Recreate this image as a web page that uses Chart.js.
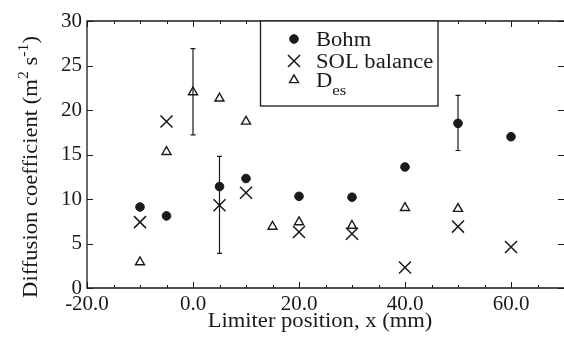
<!DOCTYPE html>
<html><head><meta charset="utf-8">
<script src="https://cdn.jsdelivr.net/npm/chart.js@4"></script>
<style>html,body{margin:0;padding:0;background:#fff;}</style>
</head><body>
<canvas id="c" width="564" height="344"></canvas>
<script>
// ---- data ----
const xBohm = [-10, -5, 5, 10, 20, 30, 40, 50, 60];
const bohm  = [9.1, 8.1, 11.4, 12.3, 10.3, 10.2, 13.6, 18.5, 17.0];
const xSol  = [-10, -5, 5, 10, 20, 30, 40, 50, 60];
const sol   = [7.4, 18.7, 9.3, 10.7, 6.3, 6.1, 2.3, 6.9, 4.6];
const xDes  = [-10, -5, 0, 5, 10, 15, 20, 30, 40, 50];
const des   = [2.9, 15.3, 22.0, 21.3, 18.7, 6.9, 7.4, 7.0, 9.0, 8.9];
// error bars: [x, low, high]
const errBohm = [[50, 15.45, 21.65]];
const errSol  = [[5, 3.9, 14.8]];
const errDes  = [[0, 17.2, 26.9]];
const xTicks = [-20, 0, 20, 40, 60];
const yTicks = [0, 5, 10, 15, 20, 25, 30];
const seriesNames = ['Bohm', 'SOL balance', 'D'];

const FONT = '"Liberation Serif", "Times New Roman", serif';
const INK = '#1a1a1a';
const SX = 1.13; // horizontal stretch of the reference lettering

function pts(xs, ys) { return xs.map((x, i) => ({x: x, y: ys[i]})); }

function stretchedText(ctx, segs, x, y, align) {
  ctx.save();
  ctx.translate(x, y);
  ctx.scale(SX, 1);
  let total = 0;
  segs.forEach(s => { ctx.font = s[1] + 'px ' + FONT; total += ctx.measureText(s[0]).width; });
  let cx = align === 'center' ? -total / 2 : 0;
  ctx.textAlign = 'left';
  segs.forEach(s => { ctx.font = s[1] + 'px ' + FONT; ctx.fillText(s[0], cx, s[2]); cx += ctx.measureText(s[0]).width; });
  ctx.restore();
}

const frame = {
  id: 'frame',
  afterDatasetsDraw(chart) {
    const {ctx, chartArea: a, scales: {x, y}} = chart;
    ctx.save();
    ctx.strokeStyle = INK; ctx.lineWidth = 1.3;
    ctx.beginPath();
    ctx.moveTo(a.right + 1, a.top); ctx.lineTo(a.left, a.top);
    ctx.lineTo(a.left, a.bottom); ctx.lineTo(a.right + 1, a.bottom);
    ctx.stroke();
    ctx.lineWidth = 1;
    for (let v = -20; v <= 70; v += 5) {
      const px = Math.round(x.getPixelForValue(v)) + 0.5;
      const len = xTicks.includes(v) ? 6 : 3;
      ctx.beginPath();
      ctx.moveTo(px, a.bottom); ctx.lineTo(px, a.bottom - len);
      ctx.moveTo(px, a.top); ctx.lineTo(px, a.top + len);
      ctx.stroke();
    }
    yTicks.forEach(v => {
      const py = Math.round(y.getPixelForValue(v)) + 0.5;
      ctx.beginPath();
      ctx.moveTo(a.left, py); ctx.lineTo(a.left + 6, py);
      ctx.moveTo(a.right, py); ctx.lineTo(a.right - 6, py);
      ctx.stroke();
    });
    ctx.lineWidth = 1.2;
    [errBohm, errSol, errDes].forEach(list => list.forEach(([xv, lo, hi]) => {
      const px = x.getPixelForValue(xv);
      const p1 = y.getPixelForValue(lo), p2 = y.getPixelForValue(hi);
      ctx.beginPath();
      ctx.moveTo(px, p1); ctx.lineTo(px, p2);
      ctx.moveTo(px - 2.5, p1); ctx.lineTo(px + 2.5, p1);
      ctx.moveTo(px - 2.5, p2); ctx.lineTo(px + 2.5, p2);
      ctx.stroke();
    }));
    ctx.fillStyle = INK;
    ctx.textBaseline = 'alphabetic';
    ctx.save();
    ctx.translate(37, 167);
    ctx.rotate(-Math.PI / 2);
    stretchedText(ctx, [['Diffusion coefficient (m', 20, 0], ['2', 14, -9], [' s', 20, 0], ['-1', 14, -9], [')', 20, 0]], 0, 0, 'center');
    ctx.restore();
    stretchedText(ctx, [['Limiter position, x (mm)', 20, 0]], 320, 327, 'center');
    // legend box
    ctx.fillStyle = '#fff';
    ctx.fillRect(260, a.top, 178, 106 - a.top);
    ctx.strokeStyle = INK; ctx.lineWidth = 1.3;
    ctx.strokeRect(260.5, a.top, 177.5, 106 - a.top);
    const rows = [39, 61, 80];
    chart.data.datasets.forEach((ds, i) => {
      ctx.fillStyle = ds.backgroundColor; ctx.strokeStyle = ds.borderColor; ctx.lineWidth = ds.borderWidth;
      Chart.helpers.drawPoint(ctx, {
        pointStyle: ds.pointStyle, radius: ds.pointRadius, borderWidth: ds.borderWidth, rotation: 0
      }, 294, rows[i]);
    });
    ctx.fillStyle = INK;
    ctx.textBaseline = 'alphabetic';
    stretchedText(ctx, [[seriesNames[0], 20, 0]], 316, rows[0] + 7, 'left');
    stretchedText(ctx, [[seriesNames[1], 20, 0]], 316, rows[1] + 7, 'left');
    stretchedText(ctx, [[seriesNames[2], 20, 0], ['es', 15, 8]], 316, rows[2] + 7, 'left');
    ctx.restore();
  }
};

new Chart(document.getElementById('c'), {
  type: 'scatter',
  data: {
    datasets: [
      {label: 'Bohm', data: pts(xBohm, bohm), pointStyle: 'circle', pointRadius: 4.3,
       backgroundColor: INK, borderColor: INK, borderWidth: 1},
      {label: 'SOL balance', data: pts(xSol, sol), pointStyle: 'crossRot', pointRadius: 8.5,
       backgroundColor: INK, borderColor: INK, borderWidth: 1.5},
      {label: 'Des', data: pts(xDes, des), pointStyle: 'triangle', pointRadius: 5.2,
       backgroundColor: 'rgba(0,0,0,0)', borderColor: INK, borderWidth: 1.4}
    ]
  },
  options: {
    responsive: false, animation: false, devicePixelRatio: 1,
    layout: {autoPadding: false, padding: {top: 21, right: 0, left: 0, bottom: 0}},
    plugins: {legend: {display: false}, tooltip: {enabled: false}},
    scales: {
      x: {
        type: 'linear', min: -20, max: 70,
        grid: {display: false, drawTicks: false}, border: {display: false},
        afterFit: s => { s.height = 56; s.paddingLeft = 0; s.paddingRight = 0; },
        afterBuildTicks: s => { s.ticks = xTicks.map(v => ({value: v})); },
        ticks: {font: {family: FONT, size: 21}, color: INK, padding: 4,
                maxRotation: 0, autoSkip: false, callback: v => Number(v).toFixed(1)}
      },
      y: {
        min: 0, max: 30,
        grid: {display: false, drawTicks: false}, border: {display: false},
        afterFit: s => { s.width = 87; s.paddingTop = 0; s.paddingBottom = 0; },
        afterBuildTicks: s => { s.ticks = yTicks.map(v => ({value: v})); },
        ticks: {font: {family: FONT, size: 21}, color: INK, padding: 5, autoSkip: false}
      }
    }
  },
  plugins: [frame]
});
</script>
</body></html>
